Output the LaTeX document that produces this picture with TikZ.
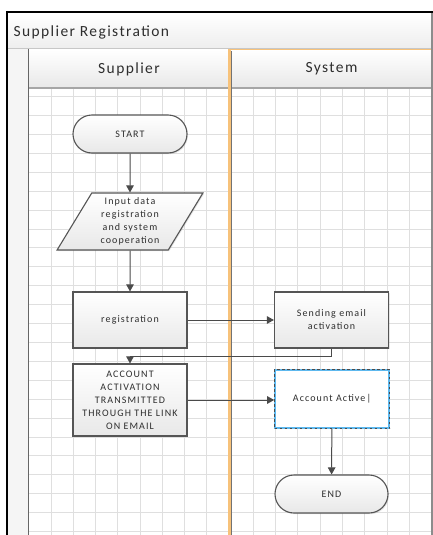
\documentclass[tikz,border=0pt]{standalone}
\usepackage{fontspec}
\setmainfont{Carlito}
\newfontfamily\titlefont[LetterSpace=9]{Carlito}
\newfontfamily\boxfont[LetterSpace=11]{Carlito}
\usetikzlibrary{shapes.geometric,arrows.meta,shadows}
\definecolor{gridc}{HTML}{DFDFDF}
\definecolor{boxline}{HTML}{555555}
\definecolor{boxbot}{HTML}{E8E8E8}
\definecolor{txt}{HTML}{2E2E2E}
\definecolor{flowc}{HTML}{4A4A4A}
\definecolor{lanesel}{HTML}{F7C27A}
\definecolor{selblue}{HTML}{5DB8EE}
\begin{document}
\begin{tikzpicture}[x=1pt,y=-1pt,
  gridline/.style={draw=gridc, line width=0.9pt},
  box/.style={draw=boxline, line width=1.1pt, top color=white, bottom color=boxbot,
    minimum width=114pt, minimum height=56pt, inner sep=2pt, align=center,
    font=\boxfont\fontsize{10}{13}\selectfont, text=txt,
    drop shadow={shadow xshift=1pt, shadow yshift=-1.2pt, opacity=0.2}},
  term/.style={box, rounded corners=19pt, minimum height=38pt},
  io/.style={box, trapezium, trapezium left angle=60.7, trapezium right angle=119.3,
    trapezium stretches=true, minimum width=146pt, minimum height=57pt, inner sep=0pt},
  selbox/.style={draw=selblue, line width=1.6pt, fill=white, minimum width=114pt,
    minimum height=58pt, align=center, font=\boxfont\fontsize{10}{13}\selectfont, text=txt},
  flow/.style={draw=flowc, line width=1pt, -{Triangle[length=7pt,width=7.5pt]}},
  lanetitle/.style={font=\titlefont\fontsize{15.5}{18}\selectfont, text=txt}
]
\useasboundingbox (0,0) rectangle (433,535);
\fill[white] (0,0) rectangle (433,535);
% title bar
\shade[top color=white, bottom color=black!7] (8,13) rectangle (432,49);
\draw[black!22, line width=1pt] (8,49) -- (432,49);
% left strip
\fill[black!4] (8,49) rectangle (28,535);
% lane headers
\shade[top color=white, bottom color=black!9] (29,50) rectangle (432,88);
% grid
\foreach \i in {1,...,8} {
  \draw[gridline] ({29+22.2*\i},89) -- ({29+22.2*\i},535);
  \draw[gridline] ({231+22.3*\i},89) -- ({231+22.3*\i},535);
}
\foreach \j in {0,...,23} {
  \draw[gridline] (29,{96.6+18.91*\j}) -- (432,{96.6+18.91*\j});
}
\draw[black!35, line width=2pt] (29,88) -- (432,88);
% lane borders
\draw[black!60, line width=1.3pt] (28.5,49) -- (28.5,535);
\draw[lanesel, line width=2.4pt] (229.5,49) -- (229.5,535);
\draw[lanesel, line width=1.6pt] (229.5,49.5) -- (432,49.5);
\draw[black!55, line width=0.9pt] (231.2,51) -- (231.2,535);
\draw[black!45, line width=1.2pt] (432,12) -- (432,535);
% outer frame
\draw[black, line width=2.2pt] (7,11) -- (7,535);
\draw[black, line width=2pt] (6,12) -- (433,12);
% titles
\node[lanetitle, anchor=west] (title) at (10,32) {Supplier Registration};
\node[lanetitle] (lsup) at (129,69) {Supplier};
\node[lanetitle] (lsys) at (331.5,69) {System};
% flowchart nodes
\node[term] (start) at (130,134) {START};
\node[io] (input) at (130,221.5) {Input data\\registration\\and system\\cooperation};
\node[box] (reg) at (130,320) {registration};
\node[box] (send) at (331.5,320) {Sending email\\activation};
\node[box, minimum height=72pt] (acct) at (130,400) {ACCOUNT\\ACTIVATION\\TRANSMITTED\\THROUGH THE LINK\\ON EMAIL};
\node[selbox] (active) at (332,399) {Account Active|};
\draw[black!70, line width=0.7pt, dash pattern=on 2.5pt off 2.5pt] (active.north west) rectangle (active.south east);
\node[term, minimum width=113pt] (end) at (331.5,494) {END};
% connectors
\draw[flow] (start) -- (input);
\draw[flow] (input) -- (reg);
\draw[flow] (reg) -- (send);
\draw[flow] (send.south) -- ++(0,8) -| (acct.north);
\draw[flow] (acct.east) -- (acct.east -| active.west);
\draw[flow] (active) -- (end);
\end{tikzpicture}
\end{document}
